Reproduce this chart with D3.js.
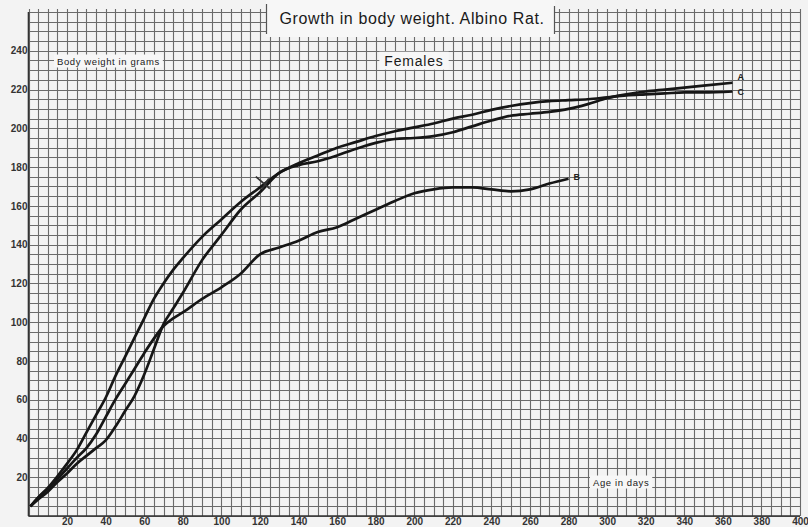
<!DOCTYPE html>
<html>
<head>
<meta charset="utf-8">
<script src="https://cdn.jsdelivr.net/npm/d3@7"></script>
<style>
  html, body { margin: 0; padding: 0; background: #f3f3f3; }
  svg { display: block; }
  .tick text { font-family: "Liberation Sans", Arial, sans-serif; font-weight: bold; fill: #333; }
</style>
</head>
<body>
<div id="chart"></div>
<script>
// age in days, shared by all three curves (B stops at 280 days)
var ages = [1, 5, 10, 15, 20, 25, 30, 35, 40, 45, 50, 55, 60, 65, 70, 75, 80, 90, 100, 110, 120,
  130, 140, 150, 160, 170, 180, 190, 200, 210, 220, 230, 240, 250, 260, 270, 280,
  290, 300, 310, 320, 330, 340, 350, 365];

// body weight in grams
var weightA = [5, 8.5, 12.5, 17.5, 22, 27, 31, 35, 39, 46, 54, 62, 73, 86, 99, 107, 115, 132, 145, 158, 167,
  177, 181, 183, 186, 189.5, 192.5, 194.5, 195, 196, 198, 201, 204, 206.5, 207.5, 208.5, 210,
  212.5, 215.5, 217.5, 219, 220, 221, 222, 223.5];
var weightB = [5, 9.5, 14, 19, 24.5, 30, 35, 42, 51, 60, 68, 76, 84, 91.5, 98, 102, 105, 112, 118, 125, 135,
  138.5, 142, 146.5, 149, 153.5, 158, 162.5, 166.5, 168.5, 169.5, 169.5, 168.5, 167.5, 168.5, 171.5, 174];
var weightC = [5, 9.5, 14.5, 20.5, 27, 34, 43, 52, 61, 72, 82, 92, 102, 112, 120, 127, 133, 144, 153, 162, 169.5,
  177, 182, 186, 190, 193, 196, 198.5, 200.5, 202.5, 205, 207, 209.5, 211.5, 213, 214, 214.5,
  215, 216, 217, 217.5, 218, 218.5, 218.5, 219];

var seriesNames = ["A", "B", "C"];
var xTicks = d3.range(20, 401, 20);
var yTicks = d3.range(20, 241, 20);

var title = "Growth in body weight.  Albino Rat.";
var subtitle = "Females";
var yLabel = "Body weight in grams";
var xLabel = "Age in days";

// little hand drawn cross on the curves
var markAge = 122, markWeight = 172;

var W = 808, H = 527;
var svg = d3.select("#chart").append("svg")
    .attr("width", W)
    .attr("height", H);

var x = d3.scaleLinear().domain([0, 400]).range([28.5, 800]);
var y = d3.scaleLinear().domain([0, 260]).range([516, 12]);

// graph paper
var grid = svg.append("g").attr("stroke", "#6a6a6a").attr("stroke-width", 1.1);
grid.selectAll("line.v").data(d3.range(0, 401, 5)).enter().append("line")
    .attr("class", "v")
    .attr("x1", d => Math.round(x(d)) + 0.5).attr("x2", d => Math.round(x(d)) + 0.5)
    .attr("y1", y(260) - 3).attr("y2", y(0));
grid.selectAll("line.h").data(d3.range(0, 261, 5)).enter().append("line")
    .attr("class", "h")
    .attr("y1", d => Math.round(y(d)) + 0.5).attr("y2", d => Math.round(y(d)) + 0.5)
    .attr("x1", x(0)).attr("x2", x(400));

// axes lines a bit darker
svg.append("line").attr("x1", x(0)).attr("x2", x(400)).attr("y1", y(0)).attr("y2", y(0))
    .attr("stroke", "#333").attr("stroke-width", 1.6);
svg.append("line").attr("x1", x(0)).attr("x2", x(0)).attr("y1", y(260)).attr("y2", y(0))
    .attr("stroke", "#333").attr("stroke-width", 1.6);

// tick labels
var yAxis = svg.append("g")
    .attr("transform", "translate(" + x(0) + ",0)")
    .call(d3.axisLeft(y).tickValues(yTicks).tickSize(0).tickPadding(1));
yAxis.select(".domain").remove();
yAxis.selectAll("text").style("font-size", "10px");

var xAxis = svg.append("g")
    .attr("transform", "translate(0," + y(0) + ")")
    .call(d3.axisBottom(x).tickValues(xTicks).tickSize(0).tickPadding(2));
xAxis.select(".domain").remove();
xAxis.selectAll("text").style("font-size", "10px");

// curves
var line = d3.line()
    .x((d, i) => x(ages[i]))
    .y(d => y(d))
    .curve(d3.curveMonotoneX);

[weightA, weightB, weightC].forEach(function(s) {
  svg.append("path")
      .datum(s)
      .attr("fill", "none")
      .attr("stroke", "#161616")
      .attr("stroke-width", 2.7)
      .attr("stroke-linejoin", "round")
      .attr("d", line);
});

// cross mark
var mx = x(markAge), my = y(markWeight);
svg.append("path")
    .attr("d", "M" + (mx - 8) + "," + (my - 6) + "L" + (mx + 6) + "," + (my + 6) +
               "M" + (mx - 2) + "," + (my + 7) + "L" + (mx + 5) + "," + (my - 4))
    .attr("stroke", "#333").attr("stroke-width", 1.8).attr("fill", "none");

// end labels
var ends = [weightA, weightB, weightC];
seriesNames.forEach(function(n, i) {
  var s = ends[i];
  var last = s.length - 1;
  svg.append("text")
      .attr("x", x(ages[last]) + 5)
      .attr("y", y(s[last]) + (n == "A" ? -3 : n == "C" ? 4 : 1))
      .attr("font-family", "Liberation Sans, Arial, sans-serif")
      .attr("font-size", 9)
      .attr("font-weight", "bold")
      .attr("fill", "#222")
      .text(n);
});

// boxed text helper: white patch behind the text
function boxedText(txt, cx, cy, size, anchor, padX, padY, spacing) {
  var g = svg.append("g");
  var t = g.append("text")
      .attr("x", cx).attr("y", cy)
      .attr("text-anchor", anchor)
      .attr("dominant-baseline", "middle")
      .attr("font-family", "Liberation Sans, Arial, sans-serif")
      .attr("font-size", size)
      .attr("letter-spacing", spacing)
      .attr("fill", "#1a1a1a")
      .text(txt);
  var b = t.node().getBBox();
  g.insert("rect", "text")
      .attr("x", b.x - padX).attr("y", b.y - padY)
      .attr("width", b.width + 2 * padX).attr("height", b.height + 2 * padY)
      .attr("fill", "#f7f7f7");
  return t;
}

// title block
svg.append("rect").attr("x", 266).attr("y", 0).attr("width", 289).attr("height", 37)
    .attr("fill", "#f7f7f7");
svg.append("line").attr("x1", 266.5).attr("x2", 266.5).attr("y1", 4).attr("y2", 34)
    .attr("stroke", "#555").attr("stroke-width", 1.2);
svg.append("line").attr("x1", 554.5).attr("x2", 554.5).attr("y1", 6).attr("y2", 34)
    .attr("stroke", "#555").attr("stroke-width", 1.2);
svg.append("text")
    .attr("x", 412).attr("y", 20)
    .attr("text-anchor", "middle")
    .attr("dominant-baseline", "middle")
    .attr("font-family", "Liberation Sans, Arial, sans-serif")
    .attr("font-size", 16)
    .attr("letter-spacing", 0.6)
    .attr("fill", "#1a1a1a")
    .text(title);

boxedText(subtitle, 414, 62, 14, "middle", 5, 1, 0.8);
boxedText(yLabel, 57, 62, 9.5, "start", 3, 1, 0.6);
boxedText(xLabel, 593, 483, 9.5, "start", 3, 1, 0.6);
</script>
</body>
</html>
